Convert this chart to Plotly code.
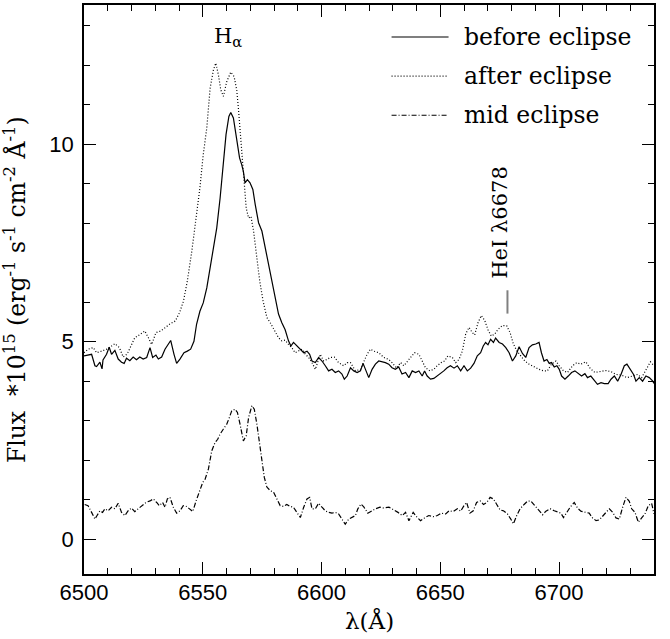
import plotly.graph_objects as go

# ---------------- data ----------------
wl_before = [6500.0, 6503.2, 6504.6, 6505.3, 6506.7, 6507.6, 6508.0, 6509.5, 6510.6, 6511.6,
             6513.0, 6514.4, 6515.8, 6516.9, 6517.9, 6519.3, 6520.7, 6522.1, 6523.5, 6524.9,
             6526.4, 6527.8, 6528.9, 6530.3, 6531.3, 6532.7, 6534.1, 6535.5, 6536.5, 6537.9,
             6539.0, 6540.4, 6542.1, 6543.5, 6544.9, 6546.3, 6547.4, 6548.8, 6550.2, 6551.7,
             6553.1, 6554.8, 6555.9, 6557.3, 6558.7, 6559.8, 6561.0, 6561.8, 6562.9, 6564.3,
             6565.5, 6566.4, 6567.1, 6567.8, 6568.8, 6569.9, 6571.1, 6572.1, 6573.5, 6574.9,
             6576.3, 6577.7, 6579.1, 6580.5, 6581.9, 6583.3, 6584.7, 6586.1, 6587.1, 6588.2,
             6589.6, 6591.1, 6592.5, 6593.9, 6595.0, 6596.0, 6597.4, 6598.8, 6600.2, 6601.6,
             6603.0, 6604.4, 6605.8, 6607.2, 6608.6, 6609.6, 6610.8, 6612.2, 6613.6, 6615.0,
             6616.4, 6617.5, 6618.5, 6619.9, 6621.3, 6622.7, 6624.1, 6625.5, 6626.9, 6628.3,
             6629.7, 6631.1, 6632.5, 6633.9, 6635.4, 6636.8, 6638.2, 6639.6, 6641.0, 6642.4,
             6643.4, 6644.5, 6645.9, 6647.3, 6648.7, 6650.1, 6651.5, 6652.9, 6654.3, 6655.8,
             6657.2, 6658.6, 6660.0, 6661.4, 6662.8, 6664.2, 6665.6, 6667.0, 6668.1, 6669.1,
             6670.1, 6671.2, 6672.4, 6673.3, 6674.8, 6676.2, 6677.6, 6679.0, 6680.4, 6681.8,
             6683.2, 6684.6, 6686.0, 6687.4, 6688.8, 6690.2, 6691.6, 6692.6, 6693.7, 6694.9,
             6695.9, 6696.8, 6698.0, 6699.1, 6700.1, 6701.1, 6702.5, 6703.9, 6705.3, 6706.7,
             6708.1, 6709.5, 6710.9, 6712.0, 6713.4, 6714.8, 6716.2, 6717.7, 6719.1, 6720.7,
             6721.9, 6723.3, 6724.7, 6726.1, 6727.5, 6728.6, 6730.0, 6731.4, 6732.4, 6733.8,
             6735.2, 6736.6, 6738.0, 6739.5, 6740.0]
flux_before = [4.64, 4.68, 4.39, 4.37, 4.48, 4.31, 4.54, 4.68, 4.86, 4.68,
               4.78, 4.56, 4.48, 4.45, 4.58, 4.52, 4.61, 4.54, 4.61, 4.56,
               4.60, 4.85, 4.60, 4.66, 4.56, 4.61, 4.81, 4.93, 5.03, 4.68,
               4.45, 4.56, 4.72, 4.76, 4.81, 5.01, 5.44, 5.77, 5.98, 6.36,
               6.87, 7.54, 7.88, 8.63, 9.48, 10.24, 10.70, 10.80, 10.66, 10.15,
               9.65, 9.48, 9.31, 9.02, 9.10, 9.02, 8.85, 8.47, 8.01, 7.80,
               7.38, 6.96, 6.54, 6.03, 5.70, 5.48, 5.30, 5.02, 4.89, 4.98,
               4.89, 4.81, 4.72, 4.76, 4.68, 4.51, 4.47, 4.60, 4.51, 4.39,
               4.26, 4.30, 4.22, 4.26, 4.18, 4.05, 4.13, 4.34, 4.26, 4.22,
               4.26, 4.45, 4.28, 4.09, 4.30, 4.43, 4.51, 4.49, 4.47, 4.43,
               4.34, 4.30, 4.36, 4.18, 4.22, 4.09, 4.26, 4.22, 4.26, 4.13,
               4.26, 4.13, 4.05, 4.07, 4.13, 4.19, 4.26, 4.34, 4.39, 4.33,
               4.39, 4.26, 4.39, 4.26, 4.33, 4.45, 4.64, 4.72, 4.89, 4.98,
               4.92, 5.06, 4.98, 5.09, 4.98, 4.94, 4.85, 4.72, 4.51, 4.64,
               4.87, 4.70, 4.60, 4.85, 4.92, 4.94, 4.98, 4.72, 4.51, 4.55,
               4.45, 4.47, 4.36, 4.39, 4.30, 4.13, 4.05, 4.13, 4.22, 4.26,
               4.19, 4.13, 4.19, 4.09, 4.13, 4.02, 3.92, 3.96, 3.94, 3.94,
               4.05, 4.13, 4.00, 4.17, 4.39, 4.43, 4.30, 4.17, 4.00, 4.09,
               4.00, 4.13, 4.09, 4.00, 3.94]

wl_after = [6500.0, 6501.8, 6503.9, 6505.3, 6507.4, 6509.5, 6511.6, 6513.0, 6514.9, 6516.5,
            6518.2, 6519.6, 6521.4, 6523.5, 6525.6, 6527.1, 6528.5, 6530.3, 6532.3, 6534.1,
            6536.2, 6538.4, 6540.2, 6541.9, 6543.5, 6545.4, 6547.2, 6548.8, 6550.2, 6551.7,
            6553.1, 6554.5, 6555.5, 6556.6, 6557.6, 6558.7, 6560.1, 6561.8, 6563.2, 6564.3,
            6565.0, 6566.0, 6566.9, 6567.4, 6568.3, 6569.3, 6570.3, 6571.4, 6572.5, 6574.0,
            6575.4, 6577.0, 6578.7, 6580.2, 6581.9, 6583.3, 6584.7, 6586.1, 6587.5, 6588.9,
            6590.4, 6591.8, 6593.2, 6594.6, 6596.0, 6597.4, 6599.5, 6600.9, 6602.3, 6603.7,
            6605.4, 6607.2, 6609.3, 6610.8, 6612.2, 6614.3, 6616.4, 6617.8, 6619.2, 6620.6,
            6622.0, 6624.1, 6626.2, 6628.3, 6629.7, 6631.6, 6633.3, 6634.7, 6636.1, 6637.5,
            6639.2, 6641.0, 6642.4, 6643.8, 6645.6, 6647.3, 6648.7, 6650.4, 6651.8, 6653.2,
            6655.1, 6656.5, 6657.9, 6659.3, 6660.7, 6662.1, 6663.5, 6664.5, 6665.9, 6667.3,
            6668.7, 6670.1, 6671.5, 6672.9, 6674.3, 6676.2, 6678.0, 6679.4, 6680.8, 6682.2,
            6683.9, 6685.6, 6687.4, 6689.5, 6691.6, 6693.5, 6695.1, 6696.8, 6698.7, 6700.1,
            6701.9, 6703.6, 6705.7, 6707.5, 6709.2, 6711.3, 6713.2, 6715.1, 6717.4, 6719.8,
            6721.9, 6724.0, 6726.1, 6728.6, 6731.0, 6733.1, 6734.8, 6736.6, 6738.5, 6740.0]
flux_after = [4.72, 4.81, 4.85, 4.72, 4.76, 4.81, 4.89, 4.95, 4.85, 4.61,
              4.69, 4.89, 5.10, 5.18, 5.27, 5.10, 4.93, 5.23, 5.27, 5.35,
              5.45, 5.52, 5.73, 6.03, 6.53, 7.29, 8.13, 8.89, 9.73, 10.41,
              11.41, 11.88, 12.05, 11.75, 11.37, 11.21, 11.58, 11.82, 11.71, 11.37,
              10.91, 10.07, 9.40, 8.89, 8.38, 8.13, 8.17, 7.80, 7.21, 6.53,
              6.03, 5.61, 5.45, 5.27, 5.10, 5.02, 5.04, 4.93, 4.85, 4.72,
              4.76, 4.81, 4.68, 4.60, 4.47, 4.30, 4.68, 4.51, 4.55, 4.60,
              4.61, 4.47, 4.39, 4.47, 4.47, 4.26, 4.30, 4.51, 4.68, 4.81,
              4.76, 4.72, 4.60, 4.55, 4.47, 4.33, 4.47, 4.39, 4.51, 4.60,
              4.72, 4.68, 4.51, 4.34, 4.26, 4.30, 4.39, 4.47, 4.51, 4.64,
              4.60, 4.47, 4.55, 4.76, 5.19, 5.36, 5.23, 5.17, 5.48, 5.66,
              5.54, 5.30, 5.14, 5.19, 5.31, 5.41, 5.40, 5.23, 4.94, 4.77,
              4.64, 4.51, 4.43, 4.36, 4.30, 4.26, 4.26, 4.43, 4.51, 4.39,
              4.26, 4.22, 4.39, 4.47, 4.43, 4.49, 4.32, 4.22, 4.24, 4.27,
              4.24, 4.17, 4.16, 4.09, 4.13, 4.17, 4.09, 4.27, 4.49, 4.39]

wl_mid = [6500.3, 6501.7, 6503.2, 6504.6, 6505.5, 6506.7, 6507.8, 6508.8, 6510.2, 6511.6,
          6513.0, 6514.4, 6515.8, 6517.2, 6518.6, 6520.0, 6521.4, 6522.8, 6524.2, 6526.1,
          6527.8, 6529.2, 6530.6, 6531.7, 6533.1, 6534.1, 6535.1, 6536.2, 6537.6, 6539.0,
          6540.4, 6541.8, 6543.2, 6544.6, 6545.8, 6547.2, 6548.6, 6550.0, 6551.0, 6552.4,
          6553.8, 6555.2, 6556.3, 6557.3, 6558.7, 6560.1, 6561.2, 6562.2, 6563.6, 6564.6,
          6565.7, 6567.1, 6568.3, 6569.3, 6570.7, 6571.7, 6572.8, 6573.9, 6574.9, 6575.9,
          6577.0, 6578.4, 6579.8, 6581.2, 6582.6, 6584.0, 6585.4, 6586.8, 6588.2, 6589.6,
          6591.1, 6592.5, 6593.9, 6595.0, 6596.0, 6597.4, 6598.8, 6600.2, 6601.6, 6603.0,
          6604.4, 6605.8, 6607.2, 6608.6, 6610.0, 6611.5, 6612.9, 6614.3, 6615.3, 6616.6,
          6617.8, 6619.5, 6621.3, 6622.7, 6624.6, 6626.2, 6628.4, 6630.5, 6632.2, 6634.0,
          6635.4, 6636.8, 6638.6, 6640.0, 6641.7, 6643.4, 6645.2, 6647.1, 6648.8, 6650.4,
          6652.3, 6653.7, 6655.5, 6657.2, 6658.6, 6660.0, 6661.1, 6662.5, 6663.9, 6665.3,
          6666.8, 6668.2, 6669.6, 6671.0, 6672.4, 6673.8, 6675.2, 6676.6, 6678.3, 6679.7,
          6680.8, 6682.2, 6683.6, 6685.3, 6686.7, 6688.1, 6689.8, 6691.2, 6693.1, 6694.5,
          6696.3, 6698.0, 6699.4, 6700.8, 6701.9, 6703.3, 6704.7, 6706.4, 6707.8, 6709.2,
          6710.9, 6712.7, 6714.1, 6715.6, 6717.0, 6718.4, 6719.8, 6721.2, 6722.6, 6724.0,
          6725.4, 6726.8, 6728.2, 6729.6, 6730.6, 6732.0, 6733.4, 6734.8, 6736.2, 6737.6,
          6739.0, 6740.0]
flux_mid = [0.88, 0.85, 0.68, 0.51, 0.60, 0.72, 0.68, 0.77, 0.72, 0.81,
            0.77, 0.91, 0.68, 0.60, 0.72, 0.79, 0.70, 0.77, 0.85, 0.93,
            0.97, 1.02, 0.93, 0.85, 0.93, 0.81, 1.02, 1.06, 0.81, 0.66,
            0.72, 0.85, 0.83, 0.77, 0.70, 0.97, 1.23, 1.44, 1.52, 1.78,
            2.24, 2.45, 2.53, 2.66, 2.79, 2.91, 3.08, 3.25, 3.29, 3.21,
            2.91, 2.49, 2.62, 3.08, 3.38, 3.29, 2.91, 2.41, 1.99, 1.57,
            1.32, 1.23, 1.19, 1.02, 0.85, 0.83, 0.88, 0.83, 0.81, 0.68,
            0.55, 0.81, 1.02, 1.06, 0.77, 0.77, 0.91, 0.81, 0.72, 0.68,
            0.66, 0.68, 0.64, 0.51, 0.38, 0.51, 0.55, 0.60, 0.77, 0.89,
            0.82, 0.66, 0.72, 0.77, 0.81, 0.79, 0.81, 0.74, 0.68, 0.60,
            0.68, 0.47, 0.68, 0.57, 0.47, 0.54, 0.60, 0.57, 0.60, 0.66,
            0.64, 0.72, 0.70, 0.77, 0.71, 0.85, 0.93, 0.66, 0.72, 0.93,
            0.97, 0.88, 0.93, 1.06, 1.02, 0.88, 0.74, 0.72, 0.64, 0.51,
            0.39, 0.60, 0.77, 0.88, 0.96, 0.97, 0.85, 0.77, 0.62, 0.71,
            0.77, 0.72, 0.68, 0.66, 0.55, 0.68, 0.81, 0.93, 0.79, 0.71,
            0.68, 0.66, 0.54, 0.47, 0.49, 0.60, 0.68, 0.77, 0.68, 0.54,
            0.51, 0.81, 1.06, 0.96, 0.77, 0.68, 0.43, 0.54, 0.64, 0.85,
            0.91, 0.64]

series_names = ["before eclipse", "after eclipse", "mid eclipse"]
x_ticks = [6500, 6550, 6600, 6650, 6700]
y_ticks = [0, 5, 10]

# ---------------- figure ----------------
SERIF = "DejaVu Serif"
SANS = "Liberation Sans"
dashes = ["solid", "1px,2px", "5px,2px,1px,2px"]

fig = go.Figure()
for wl, fl, name, dash in zip([wl_before, wl_after, wl_mid],
                              [flux_before, flux_after, flux_mid],
                              series_names, dashes):
    fig.add_trace(go.Scatter(x=wl, y=fl, mode="lines", name=name,
                             line=dict(color="black", width=1.2, dash=dash),
                             showlegend=False))

# manual legend (sample line + label)
leg_y = [12.71, 11.72, 10.73]
for name, dash, yy in zip(series_names, dashes, leg_y):
    fig.add_shape(type="line", x0=6629.5, x1=6653.5, y0=yy, y1=yy,
                  xref="x", yref="y", line=dict(color="black", width=1.2, dash=dash))
    fig.add_annotation(x=6659.0, y=yy, xref="x", yref="y", text=name,
                       showarrow=False, xanchor="left", yanchor="middle",
                       font=dict(family=SERIF, size=23.5, color="black"))

# line labels
fig.add_annotation(x=6560.8, y=12.72, xref="x", yref="y", text="H<sub>α</sub>",
                   showarrow=False, xanchor="center", yanchor="middle",
                   font=dict(family=SERIF, size=21, color="black"))
fig.add_annotation(x=6675.4, y=8.0, xref="x", yref="y", text="HeI λ6678",
                   showarrow=False, textangle=-90, xanchor="center", yanchor="middle",
                   font=dict(family=SERIF, size=21, color="black"))
fig.add_shape(type="line", x0=6678.3, x1=6678.3, y0=5.71, y1=6.30,
              xref="x", yref="y", line=dict(color="#808080", width=2))

# axis titles as annotations
fig.add_annotation(x=-0.12, y=0.5, xref="paper", yref="paper",
                   text="Flux  *10<sup>15</sup> (erg<sup>-1</sup> s<sup>-1</sup> cm<sup>-2</sup> Å<sup>-1</sup>)",
                   showarrow=False, textangle=-90, xanchor="center", yanchor="middle",
                   font=dict(family=SERIF, size=23.5, color="black"))
fig.add_annotation(x=0.5, y=-0.081, xref="paper", yref="paper", text="λ(Å)",
                   showarrow=False, xanchor="center", yanchor="middle",
                   font=dict(family=SERIF, size=23, color="black"))

axis_common = dict(showgrid=False, zeroline=False, showline=True, linecolor="black",
                   linewidth=1.5, mirror="ticks", ticks="inside", ticklen=12,
                   tickwidth=1, tickcolor="black",
                   tickfont=dict(family=SANS, size=22, color="black"))
fig.update_xaxes(range=[6500, 6740], tickvals=x_ticks,
                 ticktext=[str(v) for v in x_ticks], ticklabelstandoff=-2,
                 minor=dict(dtick=10, tick0=6500, ticks="inside", ticklen=6,
                            tickwidth=1, tickcolor="black"),
                 **axis_common)
fig.update_yaxes(range=[-0.88, 13.52], tickvals=y_ticks,
                 ticktext=[str(v) for v in y_ticks], ticklabelstandoff=4,
                 minor=dict(dtick=1, tick0=0, ticks="inside", ticklen=6,
                            tickwidth=1, tickcolor="black"),
                 **axis_common)

fig.update_layout(width=670, height=639, margin=dict(l=84, r=16, t=3, b=65),
                  paper_bgcolor="white", plot_bgcolor="white", showlegend=False)

fig.write_html("out.html", config={"displayModeBar": False})

# remove the browser's default page margin so the figure sits at (0, 0)
with open("out.html", encoding="utf-8") as f:
    html = f.read()
html = html.replace("<head>", "<head><style>html,body{margin:0;padding:0;}</style>", 1)
with open("out.html", "w", encoding="utf-8") as f:
    f.write(html)
